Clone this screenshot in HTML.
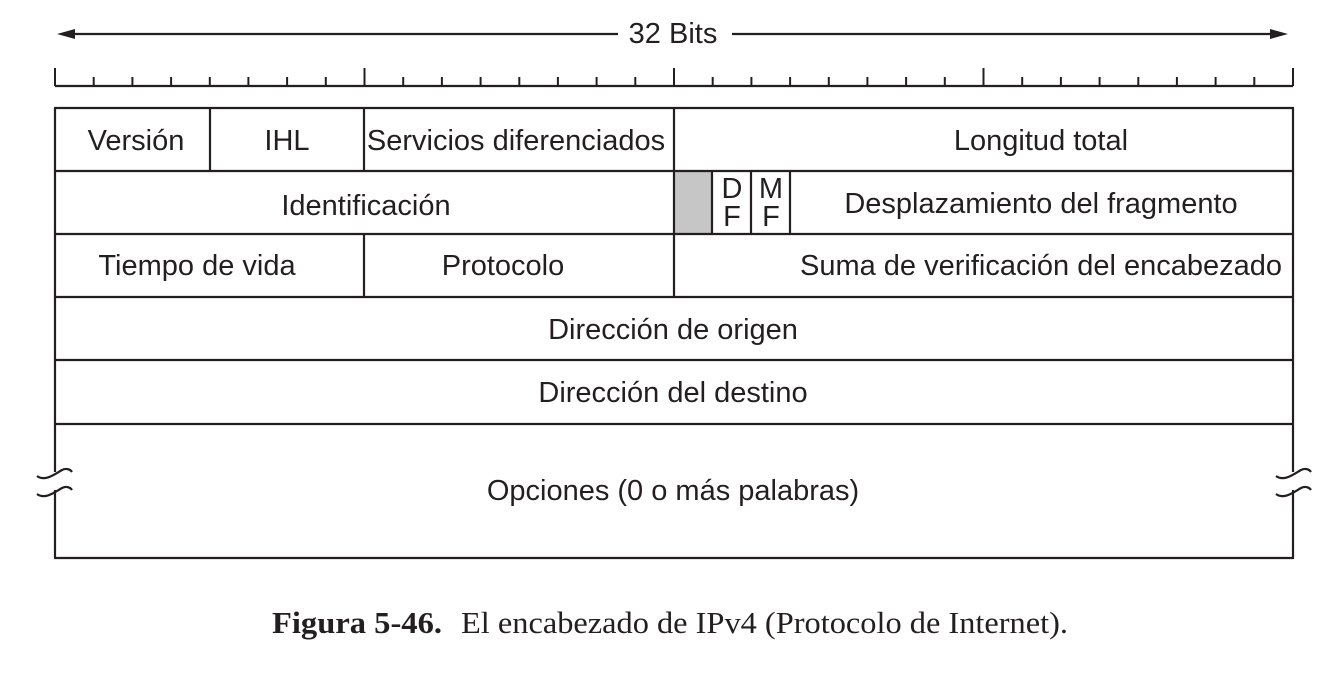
<!DOCTYPE html>
<html><head><meta charset="utf-8"><style>
html,body{margin:0;padding:0;background:#fff;width:1342px;height:678px;overflow:hidden}
svg{display:block}
.t{font-family:"Liberation Sans",Arial,sans-serif;font-size:29px;fill:#231f20;text-anchor:middle}
</style></head><body>
<svg width="1342" height="678" viewBox="0 0 1342 678" xmlns="http://www.w3.org/2000/svg">
<g stroke="#231f20" stroke-width="2.2" fill="none">
<line x1="70" y1="34" x2="618" y2="34"/>
<line x1="732" y1="34" x2="1276" y2="34"/>
<line x1="55" y1="86" x2="1293" y2="86"/>
</g>
<polygon points="57,34 75,29 75,39" fill="#231f20"/>
<polygon points="1288,34 1270,29 1270,39" fill="#231f20"/>
<text class="t" x="673" y="43">32 Bits</text>
<g stroke="#231f20" stroke-width="2">
<line x1="55" y1="68" x2="55" y2="86"/><line x1="93.7" y1="77" x2="93.7" y2="86"/><line x1="132.4" y1="77" x2="132.4" y2="86"/><line x1="171.1" y1="77" x2="171.1" y2="86"/><line x1="209.8" y1="77" x2="209.8" y2="86"/><line x1="248.4" y1="77" x2="248.4" y2="86"/><line x1="287.1" y1="77" x2="287.1" y2="86"/><line x1="325.8" y1="77" x2="325.8" y2="86"/>
<line x1="364.5" y1="68" x2="364.5" y2="86"/><line x1="403.2" y1="77" x2="403.2" y2="86"/><line x1="441.9" y1="77" x2="441.9" y2="86"/><line x1="480.6" y1="77" x2="480.6" y2="86"/><line x1="519.3" y1="77" x2="519.3" y2="86"/><line x1="557.9" y1="77" x2="557.9" y2="86"/><line x1="596.6" y1="77" x2="596.6" y2="86"/><line x1="635.3" y1="77" x2="635.3" y2="86"/>
<line x1="674" y1="68" x2="674" y2="86"/><line x1="712.7" y1="77" x2="712.7" y2="86"/><line x1="751.4" y1="77" x2="751.4" y2="86"/><line x1="790.1" y1="77" x2="790.1" y2="86"/><line x1="828.8" y1="77" x2="828.8" y2="86"/><line x1="867.4" y1="77" x2="867.4" y2="86"/><line x1="906.1" y1="77" x2="906.1" y2="86"/><line x1="944.8" y1="77" x2="944.8" y2="86"/>
<line x1="983.5" y1="68" x2="983.5" y2="86"/><line x1="1022.2" y1="77" x2="1022.2" y2="86"/><line x1="1060.9" y1="77" x2="1060.9" y2="86"/><line x1="1099.6" y1="77" x2="1099.6" y2="86"/><line x1="1138.3" y1="77" x2="1138.3" y2="86"/><line x1="1176.9" y1="77" x2="1176.9" y2="86"/><line x1="1215.6" y1="77" x2="1215.6" y2="86"/><line x1="1254.3" y1="77" x2="1254.3" y2="86"/>
<line x1="1293" y1="68" x2="1293" y2="86"/>
</g>
<rect x="675" y="172" width="37" height="62" fill="#c6c6c6"/>
<g stroke="#231f20" stroke-width="2.2" fill="none">
<line x1="54" y1="108" x2="1294" y2="108"/>
<line x1="54" y1="171" x2="1294" y2="171"/>
<line x1="54" y1="234" x2="1294" y2="234"/>
<line x1="54" y1="297" x2="1294" y2="297"/>
<line x1="54" y1="360" x2="1294" y2="360"/>
<line x1="54" y1="424" x2="1294" y2="424"/>
<line x1="54" y1="558" x2="1294" y2="558"/>
<line x1="55" y1="108" x2="55" y2="472"/><line x1="55" y1="490" x2="55" y2="558"/>
<line x1="1293" y1="108" x2="1293" y2="472"/><line x1="1293" y1="490" x2="1293" y2="558"/>
<line x1="210" y1="108" x2="210" y2="171"/>
<line x1="364" y1="108" x2="364" y2="171"/>
<line x1="364" y1="234" x2="364" y2="297"/>
<line x1="674" y1="108" x2="674" y2="297"/>
<line x1="712" y1="171" x2="712" y2="234"/>
<line x1="751" y1="171" x2="751" y2="234"/>
<line x1="790" y1="171" x2="790" y2="234"/>
<path d="M37,476 C45,482 55,474 62,470 C66,468 70,469 72,472"/>
<path d="M37,494 C45,500 55,492 62,488 C66,486 70,487 72,490"/>
<path d="M1276,476 C1284,482 1294,474 1301,470 C1305,468 1309,469 1311,472"/>
<path d="M1276,494 C1284,500 1294,492 1301,488 C1305,486 1309,487 1311,490"/>
</g>
<text class="t" x="136" y="150">Versión</text>
<text class="t" x="287" y="150">IHL</text>
<text class="t" x="516" y="150">Servicios diferenciados</text>
<text class="t" x="1041" y="150">Longitud total</text>
<text class="t" x="366" y="215">Identificación</text>
<text class="t" x="732" y="198">D</text><text class="t" x="732" y="226">F</text>
<text class="t" x="771" y="198">M</text><text class="t" x="771" y="226">F</text>
<text class="t" x="1041" y="213">Desplazamiento del fragmento</text>
<text class="t" x="197" y="275">Tiempo de vida</text>
<text class="t" x="503" y="275">Protocolo</text>
<text class="t" x="1041" y="275">Suma de verificación del encabezado</text>
<text class="t" x="673" y="339">Dirección de origen</text>
<text class="t" x="673" y="402">Dirección del destino</text>
<text class="t" x="673" y="500">Opciones (0 o más palabras)</text>
<text x="272" y="633" textLength="170" lengthAdjust="spacingAndGlyphs" style="font-family:'Liberation Serif',serif;font-weight:bold;font-size:31px;fill:#231f20">Figura 5-46.</text>
<text x="461" y="633" textLength="607" lengthAdjust="spacingAndGlyphs" style="font-family:'Liberation Serif',serif;font-size:31px;fill:#231f20">El encabezado de IPv4 (Protocolo de Internet).</text>
</svg>
</body></html>
